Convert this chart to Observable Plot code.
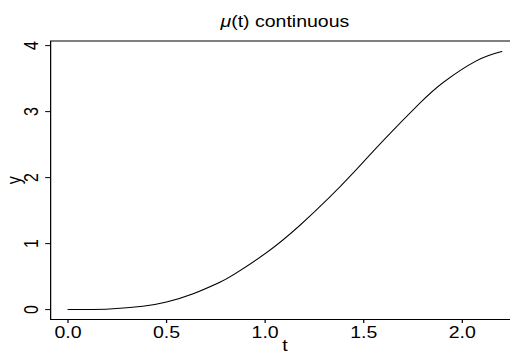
<!DOCTYPE html>
<html>
<head>
<meta charset="utf-8">
<script src="https://cdn.jsdelivr.net/npm/d3@7"></script>
<script src="https://cdn.jsdelivr.net/npm/@observablehq/plot@0.6"></script>
<style>
  html, body { margin: 0; padding: 0; background: white; }
  #wrap { width: 510px; height: 354px; overflow: hidden; position: relative; }
  #wrap svg { transform: scaleX(1.22); transform-origin: 0 0; overflow: visible; }
</style>
</head>
<body>
<div id="wrap"></div>
<script>
// Data
const tValues  = [0, 0.21, 0.38, 0.5, 0.635, 0.767, 0.838, 1.007, 1.176, 1.324, 1.446, 1.615, 1.784, 1.902, 2.071, 2.2];
const muValues = [0, 0.01, 0.05, 0.115, 0.24, 0.41, 0.525, 0.863, 1.277, 1.694, 2.07, 2.611, 3.126, 3.439, 3.769, 3.911];
const xTicks = [0, 0.5, 1, 1.5, 2];
const xTickLabels = ["0.0", "0.5", "1.0", "1.5", "2.0"];
const yTicks = [0, 1, 2, 3, 4];
const yTickLabels = ["0", "1", "2", "3", "4"];
const titleText = "μ(t) continuous";
const xLabel = "t";
const yLabel = "y";

const data = tValues.map((t, i) => ({t, mu: muValues[i]}));
const yTickData = yTicks.map((v, i) => ({v, label: yTickLabels[i]}));

const chart = Plot.plot({
  width: 425,
  height: 354,
  marginLeft: 41,
  marginRight: 0,
  marginTop: 40.5,
  marginBottom: 35,
  style: {fontFamily: "'Liberation Sans', Arial, Helvetica, sans-serif", fontSize: "16px", color: "black", background: "white"},
  x: {domain: [-0.088, 2.288], label: null},
  y: {domain: [-0.15, 4.07], label: null},
  marks: [
    Plot.frame({stroke: "black", strokeWidth: 1}),
    Plot.axisX({ticks: xTicks, tickSize: 4, tickPadding: 3, tickFormat: (d) => xTickLabels[xTicks.indexOf(d)], label: null, fontSize: 16}),
    Plot.axisY({ticks: yTicks, tickSize: 4, tickFormat: () => "", label: null}),
    Plot.text(yTickData, {y: "v", text: "label", frameAnchor: "left", dx: -10, rotate: -90, textAnchor: "middle", lineAnchor: "bottom", fontSize: 16, fill: "black"}),
    Plot.text([yLabel], {text: d => d, frameAnchor: "left", dx: -24, rotate: -90, textAnchor: "middle", lineAnchor: "bottom", fontSize: 16, fill: "black"}),
    Plot.text([xLabel], {text: d => d, frameAnchor: "bottom", dy: 31, textAnchor: "middle", lineAnchor: "bottom", fontSize: 16, fill: "black"}),
    Plot.text([titleText], {text: d => d, frameAnchor: "top", dy: -14.5, textAnchor: "middle", lineAnchor: "bottom", fontSize: 16, fill: "black"}),
    Plot.line(data, {x: "t", y: "mu", stroke: "black", strokeWidth: 1, curve: "natural"})
  ]
});
document.getElementById("wrap").appendChild(chart);

// Italicize the μ in the title
d3.select(chart).selectAll("text").each(function() {
  const el = d3.select(this);
  if (el.text() === titleText) {
    el.text(null);
    el.append("tspan").attr("font-style", "italic").text("μ");
    el.append("tspan").text(titleText.slice(1));
  }
});
</script>
</body>
</html>
